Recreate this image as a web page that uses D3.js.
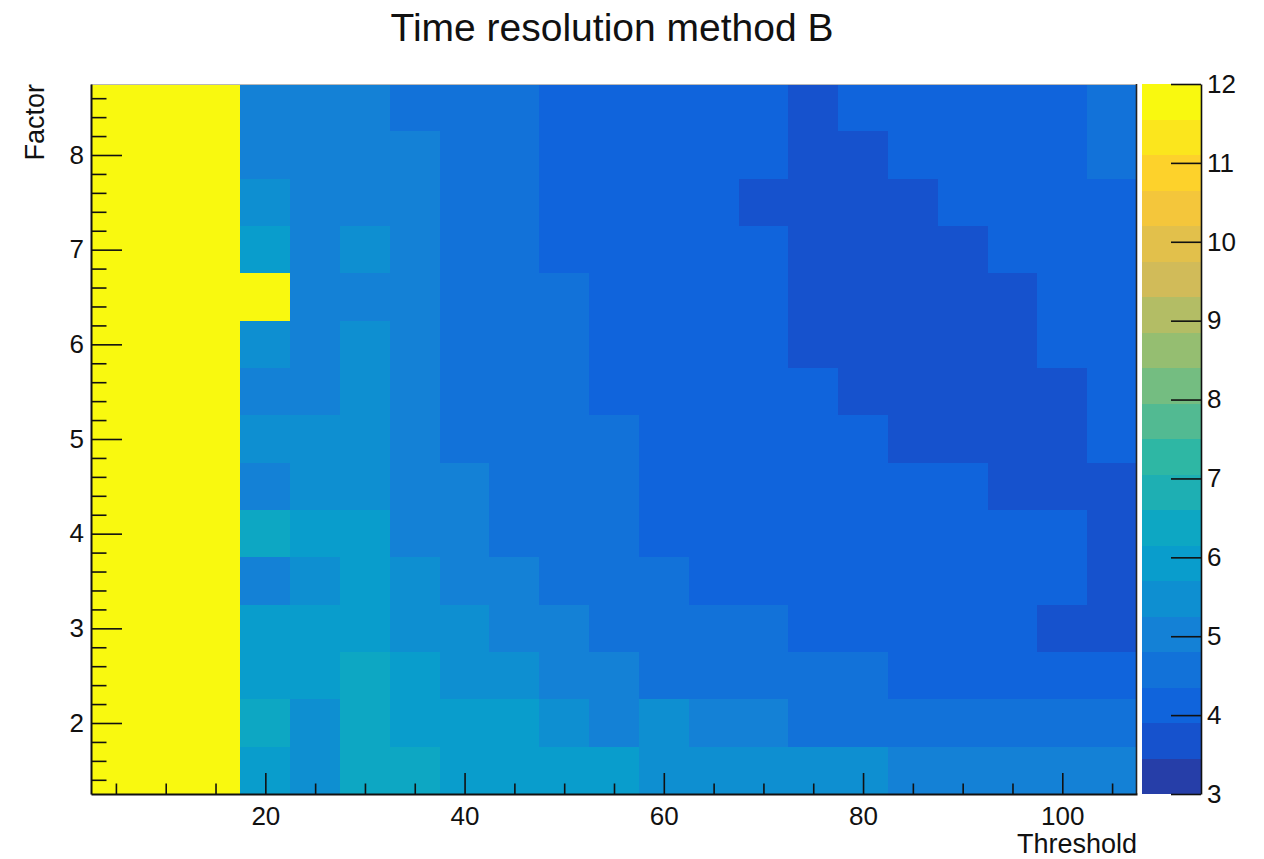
<!DOCTYPE html>
<html><head><meta charset="utf-8">
<script src="https://cdn.jsdelivr.net/npm/d3@7"></script>
<style>
body{margin:0;background:#fff}
svg text{font-family:"Liberation Sans",Arial,Helvetica,sans-serif;fill:#111}
</style>
</head><body>
<svg id="chart" width="1264" height="859"></svg>
<script>
// ---------------- data ----------------
const thresholds = [5,10,15,20,25,30,35,40,45,50,55,60,65,70,75,80,85,90,95,100,105];
const factors = [8.5,8.0,7.5,7.0,6.5,6.0,5.5,5.0,4.5,4.0,3.5,3.0,2.5,2.0,1.5];
// time resolution, one row per factor (top row = 8.5)
const resolution = [
 [12,12,12,5.0,5.0,5.0,4.6,4.6,4.6,4.1,4.1,4.1,4.1,4.1,3.7,4.1,4.1,4.1,4.1,4.1,4.6],
 [12,12,12,5.0,5.0,5.0,5.0,4.6,4.6,4.1,4.1,4.1,4.1,4.1,3.7,3.7,4.1,4.1,4.1,4.1,4.6],
 [12,12,12,5.5,5.0,5.0,5.0,4.6,4.6,4.1,4.1,4.1,4.1,3.7,3.7,3.7,3.7,4.1,4.1,4.1,4.1],
 [12,12,12,5.9,5.0,5.5,5.0,4.6,4.6,4.1,4.1,4.1,4.1,4.1,3.7,3.7,3.7,3.7,4.1,4.1,4.1],
 [12,12,12,12 ,5.0,5.0,5.0,4.6,4.6,4.6,4.1,4.1,4.1,4.1,3.7,3.7,3.7,3.7,3.7,4.1,4.1],
 [12,12,12,5.5,5.0,5.5,5.0,4.6,4.6,4.6,4.1,4.1,4.1,4.1,3.7,3.7,3.7,3.7,3.7,4.1,4.1],
 [12,12,12,5.0,5.0,5.5,5.0,4.6,4.6,4.6,4.1,4.1,4.1,4.1,4.1,3.7,3.7,3.7,3.7,3.7,4.1],
 [12,12,12,5.5,5.5,5.5,5.0,4.6,4.6,4.6,4.6,4.1,4.1,4.1,4.1,4.1,3.7,3.7,3.7,3.7,4.1],
 [12,12,12,5.0,5.5,5.5,5.0,5.0,4.6,4.6,4.6,4.1,4.1,4.1,4.1,4.1,4.1,4.1,3.7,3.7,3.7],
 [12,12,12,6.4,5.9,5.9,5.0,5.0,4.6,4.6,4.6,4.1,4.1,4.1,4.1,4.1,4.1,4.1,4.1,4.1,3.7],
 [12,12,12,5.0,5.5,5.9,5.5,5.0,5.0,4.6,4.6,4.6,4.1,4.1,4.1,4.1,4.1,4.1,4.1,4.1,3.7],
 [12,12,12,5.9,5.9,5.9,5.5,5.5,5.0,5.0,4.6,4.6,4.6,4.6,4.1,4.1,4.1,4.1,4.1,3.7,3.7],
 [12,12,12,5.9,5.9,6.4,5.9,5.5,5.5,5.0,5.0,4.6,4.6,4.6,4.6,4.6,4.1,4.1,4.1,4.1,4.1],
 [12,12,12,6.4,5.5,6.4,5.9,5.9,5.9,5.5,5.0,5.5,5.0,5.0,4.6,4.6,4.6,4.6,4.6,4.6,4.6],
 [12,12,12,5.9,5.5,6.4,6.4,5.9,5.9,5.9,5.9,5.5,5.5,5.5,5.5,5.5,5.0,5.0,5.0,5.0,5.0]
];
const xTicks = [20,40,60,80,100];
const yTicks = [2,3,4,5,6,7,8];
const zTicks = [3,4,5,6,7,8,9,10,11,12];
const zRange = [3,12];
const nContours = 20;

// ---------------- palette (ROOT kBird) ----------------
const pStops = [0.0,0.125,0.25,0.375,0.5,0.625,0.75,0.875,1.0];
const pRed   = [0.2082,0.0592,0.0780,0.0232,0.1802,0.5301,0.8186,0.9956,0.9764];
const pGreen = [0.1664,0.3599,0.5041,0.6419,0.7178,0.7492,0.7328,0.7862,0.9832];
const pBlue  = [0.5293,0.8684,0.8385,0.7914,0.6425,0.4662,0.3499,0.1968,0.0539];
const NCOL = 255;
const palette = [];
for (let g = 1; g < pStops.length; g++) {
  const n = Math.floor(NCOL*pStops[g]) - Math.floor(NCOL*pStops[g-1]);
  for (let c = 0; c < n; c++) {
    const f = c/n;
    palette.push(d3.rgb(
      Math.round(255*(pRed[g-1]+f*(pRed[g]-pRed[g-1]))),
      Math.round(255*(pGreen[g-1]+f*(pGreen[g]-pGreen[g-1]))),
      Math.round(255*(pBlue[g-1]+f*(pBlue[g]-pBlue[g-1])))).formatHex());
  }
}
const bandColors = d3.range(nContours).map(i => palette[Math.min(NCOL-1, Math.floor((i+0.99)*NCOL/nContours))]);
const color = d3.scaleQuantize().domain(zRange).range(bandColors);

// ---------------- layout ----------------
const svg = d3.select("#chart");
const L = 91, R = 1137, T = 84, B = 794;
const binW = thresholds[1]-thresholds[0];
const binH = Math.abs(factors[0]-factors[1]);
const x = d3.scaleLinear().domain([d3.min(thresholds)-binW/2, d3.max(thresholds)+binW/2]).range([L,R]);
const y = d3.scaleLinear().domain([d3.min(factors)-binH/2, d3.max(factors)+binH/2]).range([B,T]);

// cells
const cells = [];
factors.forEach((f,i) => thresholds.forEach((t,j) => cells.push({t,f,v:resolution[i][j]})));
svg.append("g").selectAll("rect").data(cells).join("rect")
  .attr("x", d => x(d.t-binW/2))
  .attr("y", d => y(d.f+binH/2))
  .attr("width", d => x(d.t+binW/2)-x(d.t-binW/2))
  .attr("height", d => y(d.f-binH/2)-y(d.f+binH/2))
  .attr("fill", d => color(Math.min(d.v, zRange[1])))
  .attr("shape-rendering","crispEdges");

// frame
svg.append("line").attr("x1",L).attr("x2",R).attr("y1",T+0.5).attr("y2",T+0.5).attr("stroke","#b8b8b8").attr("stroke-width",1);
svg.append("line").attr("x1",R-0.5).attr("x2",R-0.5).attr("y1",T).attr("y2",B).attr("stroke","#222").attr("stroke-width",1.6);

// x axis
const xMinor = d3.range(5, 107.5, 5).filter(v => !xTicks.includes(v));
svg.append("g").attr("transform",`translate(0,${B})`)
  .call(d3.axisBottom(x).tickValues(xMinor).tickSize(-10.5).tickFormat(""))
  .call(g => g.select(".domain").remove())
  .call(g => g.selectAll("line").attr("stroke","#111").attr("stroke-width",1.6));
svg.append("g").attr("class","xaxis").attr("transform",`translate(0,${B})`)
  .call(d3.axisBottom(x).tickValues(xTicks).tickSize(-21).tickSizeOuter(0).tickPadding(13).tickFormat(d3.format("d")))
  .call(g => g.select(".domain").attr("stroke","#111").attr("stroke-width",2))
  .call(g => g.selectAll("line").attr("stroke","#111").attr("stroke-width",1.6))
  .call(g => g.selectAll("text").attr("font-size",26).attr("font-family",null).attr("fill","#111"));

// y axis
const yMinor = d3.range(1.4, 8.7, 0.2).map(v => Math.round(v*10)/10).filter(v => !yTicks.includes(v));
svg.append("g").attr("transform",`translate(${L},0)`)
  .call(d3.axisLeft(y).tickValues(yMinor).tickSize(-15.5).tickFormat(""))
  .call(g => g.select(".domain").remove())
  .call(g => g.selectAll("line").attr("stroke","#111").attr("stroke-width",1.6));
svg.append("g").attr("transform",`translate(${L},0)`)
  .call(d3.axisLeft(y).tickValues(yTicks).tickSize(-31).tickSizeOuter(0).tickPadding(7).tickFormat(d3.format("d")))
  .call(g => g.select(".domain").attr("stroke","#111").attr("stroke-width",2))
  .call(g => g.selectAll("line").attr("stroke","#111").attr("stroke-width",1.6))
  .call(g => g.selectAll("text").attr("font-size",26).attr("font-family",null).attr("fill","#111"));

// palette
const PL = 1142, PR = 1201;
const z = d3.scaleLinear().domain(zRange).range([B,T]);
const bandW = (zRange[1]-zRange[0])/nContours;
svg.append("g").selectAll("rect").data(bandColors).join("rect")
  .attr("x", PL).attr("width", PR-PL)
  .attr("y", (c,i) => z(zRange[0]+(i+1)*bandW))
  .attr("height", (c,i) => z(zRange[0]+i*bandW) - z(zRange[0]+(i+1)*bandW))
  .attr("fill", c => c)
  .attr("shape-rendering","crispEdges");
svg.append("g").attr("transform",`translate(${PR},0)`)
  .call(d3.axisRight(z).tickValues(zTicks).tickSize(-30).tickSizeOuter(0).tickPadding(6).tickFormat(d3.format("d")))
  .call(g => g.select(".domain").attr("stroke","#111").attr("stroke-width",1.6))
  .call(g => g.selectAll("line").attr("stroke","#111").attr("stroke-width",1.6))
  .call(g => g.selectAll("text").attr("font-size",26).attr("font-family",null).attr("fill","#111"));

// titles
svg.append("text").attr("x",612).attr("y",41).attr("text-anchor","middle").attr("font-size",39).text("Time resolution method B");
svg.append("text").attr("x",R).attr("y",853).attr("text-anchor","end").attr("font-size",27).text("Threshold");
svg.append("text").attr("transform",`translate(44,${T}) rotate(-90)`).attr("text-anchor","end").attr("font-size",27).text("Factor");
</script>
</body></html>
